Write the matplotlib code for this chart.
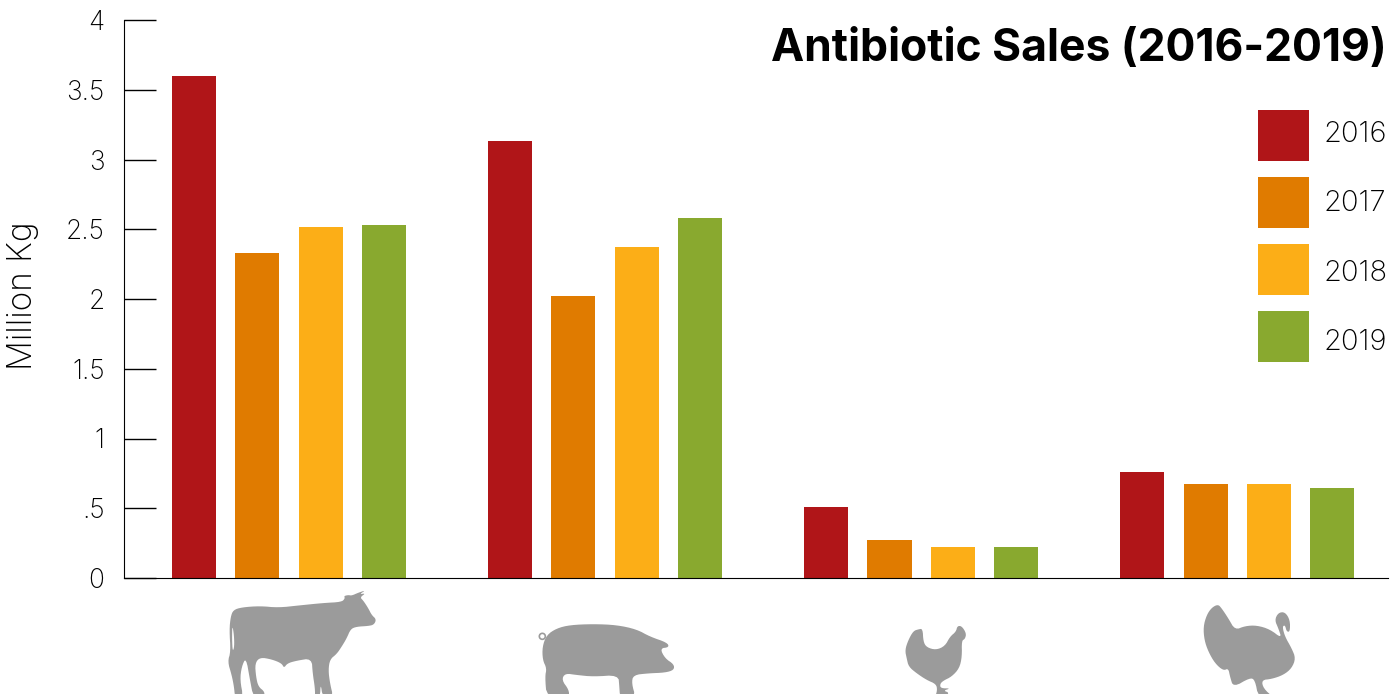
import matplotlib
matplotlib.use('Agg')
import matplotlib.pyplot as plt
from matplotlib.patches import Polygon, Circle
from matplotlib.transforms import ScaledTranslation

plt.rcParams['font.family'] = ['Inter', 'DejaVu Sans']

years = ['2016', '2017', '2018', '2019']
colors = ['#b01518', '#e07b00', '#fcae17', '#89a92f']
sales_2016 = [3.60, 3.135, 0.51, 0.76]
sales_2017 = [2.33, 2.02, 0.27, 0.675]
sales_2018 = [2.515, 2.375, 0.22, 0.675]
sales_2019 = [2.53, 2.58, 0.22, 0.645]
yticks = [0, 0.5, 1, 1.5, 2, 2.5, 3, 3.5, 4]
ytick_labels = ['0', '.5', '1', '1.5', '2', '2.5', '3', '3.5', '4']

# outlines, in zoomed pixels
cow = [(92,110),(100,90),(125,82),(180,78),(235,83),(300,76),(370,69),(425,66),(435,55),(432,48),(445,45),(455,47),
       (475,38),(497,31),(478,43),(497,40),(480,52),(490,62),(505,85),(515,105),(529,118),(522,134),(505,138),(470,140),
       (452,147),(440,175),(425,200),(410,222),(390,238),(385,270),(390,310),(400,352),(368,352),(362,310),(360,352),(345,352),
       (345,325),(338,280),(335,235),(290,242),(262,250),(252,264),(245,250),(215,238),(180,232),(165,250),(168,290),
       (175,320),(194,335),(192,352),(160,352),(150,300),(138,232),(125,260),(120,300),(130,352),(105,352),(102,320),
       (95,285),(83,245),(92,215),(88,150)]
cow_slit = [(97,135),(102,165),(103,200),(98,215),(96,175)]
pig = [(1040,165),(1070,145),(1110,135),(1180,132),(1250,135),(1310,148),(1350,170),(1402,188),(1407,202),(1380,205),
       (1395,235),(1422,253),(1422,270),(1395,278),(1345,280),(1300,285),(1295,310),(1307,352),(1260,352),(1258,320),
       (1255,285),(1180,290),(1130,285),(1095,280),(1085,300),(1107,330),(1107,352),(1040,352),(1035,290),(1040,265),
       (1028,240),(1027,200)]
chicken = [(128,146),(130,185),(140,202),(168,210),(195,198),(210,170),(228,155),(232,138),(245,138),(259,160),(255,177),
           (245,182),(246,230),(238,265),(215,290),(190,302),(180,312),(182,325),(212,325),(190,332),(208,338),(195,352),
           (165,352),(172,330),(168,312),(140,300),(110,280),(86,260),(80,235),(75,210),(85,180),(100,153),(115,148)]
turkey = [(1014,73),(1025,85),(1045,115),(1065,150),(1095,138),(1130,136),(1170,148),(1205,175),(1195,145),(1184,120),
          (1195,98),(1215,96),(1230,120),(1230,155),(1220,155),(1215,135),(1207,140),(1215,170),(1235,205),(1247,235),
          (1235,265),(1210,285),(1175,297),(1145,300),(1150,325),(1180,352),(1135,352),(1125,300),(1110,293),(1060,322),
          (1050,290),(1045,265),(1030,272),(1005,250),(985,215),(973,180),(970,140),(980,105),(995,83)]


def smooth(points, rounds=2):
    # corner cutting so the traced outlines don't look faceted
    for _ in range(rounds):
        out = []
        for a, b in zip(points, points[1:] + points[:1]):
            out.append((0.75 * a[0] + 0.25 * b[0], 0.75 * a[1] + 0.25 * b[1]))
            out.append((0.25 * a[0] + 0.75 * b[0], 0.25 * a[1] + 0.75 * b[1]))
        points = out
    return points


def shape(points, x0, color='#9b9b9b'):
    return Polygon([(x0 + x / 3, 580 + y / 3) for x, y in smooth(points)], closed=True, fc=color, ec='none')


fig = plt.figure(figsize=(14, 6.94), dpi=100)
ax = fig.add_axes([124 / 1400, 1 - 578 / 694, 1264 / 1400, 558 / 694])

series = [sales_2016, sales_2017, sales_2018, sales_2019]
for i, values in enumerate(series):
    xs = [g * 4.99 + i for g in range(len(values))]
    ax.bar(xs, values, width=0.695, color=colors[i], label=years[i])

ax.set_xlim(-1.105, 18.85)
ax.set_ylim(0, 4)
ax.set_xticks([])
ax.set_yticks(yticks)
ax.set_yticklabels(ytick_labels, fontsize=19, fontweight='light', va='center')
ax.tick_params(axis='y', direction='in', length=23, width=1, pad=14)
# the numbers sit a little below their ticks
for label in ax.get_yticklabels():
    label.set_transform(label.get_transform() + ScaledTranslation(0, -3 / 100, fig.dpi_scale_trans))
ax.spines['top'].set_visible(False)
ax.spines['right'].set_visible(False)
ax.set_ylabel('Million Kg', fontsize=24, fontweight='light')
ax.yaxis.set_label_coords(-85 / 1264, (578 - 295.5) / 558)

leg = fig.legend(loc='upper left', bbox_to_anchor=(1258 / 1400, 1 - 110 / 694), bbox_transform=fig.transFigure,
                 frameon=False, borderpad=0, borderaxespad=0, handlelength=1.75, handleheight=2.315,
                 labelspacing=0.55, handletextpad=0.48, prop={'size': 21, 'weight': 'light'})
for text, shift in zip(leg.get_texts(), [3, 1, -2, -4]):
    text.set_y(shift)

fig.text(1387 / 1400, 1 - 61 / 694, 'Antibiotic Sales (2016-2019)', ha='right', va='baseline',
         fontsize=32, fontweight='bold', color='black')

# silhouettes under the axis
icons = fig.add_axes([0, 0, 1, 1], facecolor='none')
icons.set_xlim(0, 1400)
icons.set_ylim(694, 0)
icons.axis('off')
icons.add_patch(shape(cow, 200))
icons.add_patch(shape(cow_slit, 200, 'white'))
icons.add_patch(shape(pig, 200))
icons.add_patch(Circle((200 + 1027 / 3, 580 + 169 / 3), 3, fc='none', ec='#9b9b9b', lw=1.2))
icons.add_patch(shape(chicken, 880))
icons.add_patch(shape(turkey, 880))

fig.savefig('out.png', dpi=100)
